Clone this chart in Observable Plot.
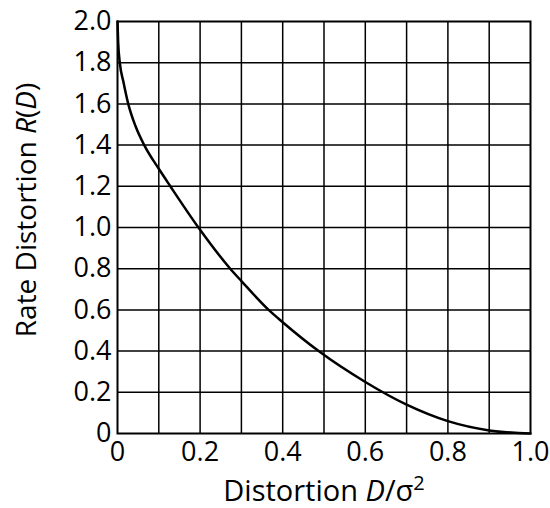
<!DOCTYPE html>
<html>
<head>
<meta charset="utf-8">
<script src="https://cdn.jsdelivr.net/npm/d3@7"></script>
<script src="https://cdn.jsdelivr.net/npm/@observablehq/plot@0.6"></script>
<style>
  html, body { margin: 0; padding: 0; background: #fff; }
  #chart { width: 550px; height: 508px; }
</style>
</head>
<body>
<div id="chart"></div>
<script>
// Distortion D/σ²
const distortion = [0, 0.0016, 0.0056, 0.0144, 0.026, 0.044, 0.066, 0.1, 0.128, 0.196, 0.273, 0.3, 0.366, 0.4, 0.487, 0.6, 0.7, 0.8, 0.9, 1.0];
// Rate distortion R(D)
const rate = [2.0, 1.9, 1.8, 1.706, 1.6, 1.49, 1.395, 1.285, 1.2, 1.0, 0.8, 0.74, 0.6, 0.54, 0.4, 0.25, 0.14, 0.06, 0.015, 0];
const xTicks = [0, 0.2, 0.4, 0.6, 0.8, 1.0];
const xTickLabels = ["0", "0.2", "0.4", "0.6", "0.8", "1.0"];
const yTicks = [0, 0.2, 0.4, 0.6, 0.8, 1.0, 1.2, 1.4, 1.6, 1.8, 2.0];
const yTickLabels = ["0", "0.2", "0.4", "0.6", "0.8", "1.0", "1.2", "1.4", "1.6", "1.8", "2.0"];
const xGrid = [0.1, 0.2, 0.3, 0.4, 0.5, 0.6, 0.7, 0.8, 0.9];
const yGrid = [0.2, 0.4, 0.6, 0.8, 1.0, 1.2, 1.4, 1.6, 1.8];

const curve = distortion.map((d, i) => ({D: d, R: rate[i]}));
const font = "'Open Sans', sans-serif";

const svg = Plot.plot({
  width: 550,
  height: 508,
  marginLeft: 117,
  marginRight: 20,
  marginTop: 21,
  marginBottom: 75,
  style: {fontFamily: font, fontSize: "27px", color: "#000", background: "#fff"},
  x: {domain: [0, 1], ticks: xTicks, tickFormat: (d, i) => xTickLabels[i], tickSize: 0, tickPadding: 8, label: null},
  y: {domain: [0, 2], ticks: yTicks, tickFormat: (d, i) => yTickLabels[i], tickSize: 0, tickPadding: 6, label: null},
  marks: [
    Plot.ruleX(xGrid, {stroke: "#000", strokeWidth: 1.5}),
    Plot.ruleY(yGrid, {stroke: "#000", strokeWidth: 1.5}),
    Plot.frame({stroke: "#000", strokeWidth: 2}),
    Plot.line(curve, {x: "D", y: "R", curve: "monotone-x", stroke: "#000", strokeWidth: 2.5})
  ]
});

const s = d3.select(svg);
// x axis title
const xt = s.append("text")
  .attr("x", 324).attr("y", 501)
  .attr("text-anchor", "middle")
  .attr("font-family", font).attr("font-size", 29).attr("fill", "#000");
xt.append("tspan").text("Distortion ");
xt.append("tspan").attr("font-style", "italic").text("D");
xt.append("tspan").text("/σ");
xt.append("tspan").attr("font-size", 20).attr("dy", -11).text("2");

// y axis title
const yt = s.append("text")
  .attr("transform", "translate(36,210) rotate(-90)")
  .attr("text-anchor", "middle")
  .attr("font-family", font).attr("font-size", 28).attr("fill", "#000");
yt.append("tspan").text("Rate Distortion ");
yt.append("tspan").attr("font-style", "italic").text("R");
yt.append("tspan").text("(");
yt.append("tspan").attr("font-style", "italic").text("D");
yt.append("tspan").text(")");

document.getElementById("chart").appendChild(svg);
</script>
</body>
</html>
